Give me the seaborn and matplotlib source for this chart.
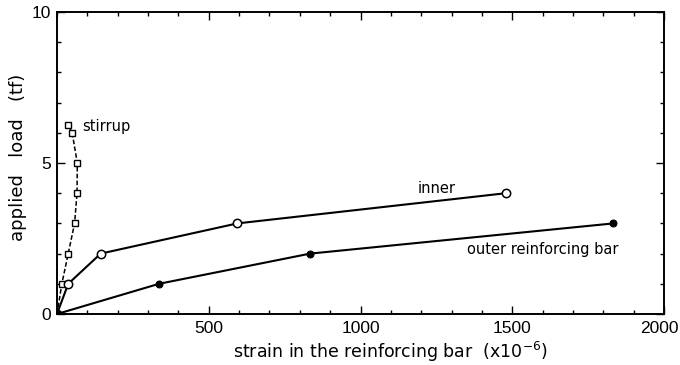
import matplotlib
matplotlib.use("Agg")
import matplotlib.pyplot as plt
import matplotlib.transforms as mtransforms
from matplotlib.ticker import MultipleLocator
import seaborn as sns
import pandas as pd

# strain readings (x10^-6) against applied load (tf)
stirrup_load = [0, 1, 2, 3, 4, 5, 6, 6.25]
stirrup_strain = [0, 16, 37, 58, 66, 67, 50, 37]

inner_load = [0, 1, 2, 3, 4]
inner_strain = [0, 37, 144, 594, 1479]

outer_load = [0, 1, 2, 3]
outer_strain = [0, 336, 834, 1833]

x_ticks = [500, 1000, 1500, 2000]
x_ticklabels = ["500", "1000", "1500", "2000"]

sns.set_style("ticks")
plt.rcParams["font.family"] = ["DejaVu Sans"]
plt.rcParams["text.color"] = "black"
plt.rcParams["axes.labelcolor"] = "black"

fig = plt.figure(figsize=(6.8, 3.65), dpi=100)
ax = fig.add_axes([0.0838, 0.1397, 0.8927, 0.8274])

stir = pd.DataFrame({"strain": stirrup_strain, "load": stirrup_load})
inn = pd.DataFrame({"strain": inner_strain, "load": inner_load})
out = pd.DataFrame({"strain": outer_strain, "load": outer_load})

sns.lineplot(data=stir, x="strain", y="load", sort=False, estimator=None, ax=ax,
             color="black", lw=1.1, linestyle=(0, (3, 1.5)), marker="s",
             markersize=5, markerfacecolor="white", markeredgecolor="black",
             markeredgewidth=1.0)
sns.lineplot(data=inn, x="strain", y="load", sort=False, estimator=None, ax=ax,
             color="black", lw=1.5, marker="o", markersize=6,
             markerfacecolor="white", markeredgecolor="black", markeredgewidth=1.1)
sns.lineplot(data=out, x="strain", y="load", sort=False, estimator=None, ax=ax,
             color="black", lw=1.5, marker="o", markersize=5,
             markerfacecolor="black", markeredgecolor="black")

ax.text(82, 6.2, "stirrup", fontsize=10.5, ha="left", va="center", color="black")
ax.text(1252, 4.17, "inner", fontsize=10.5, ha="center", va="center", color="black")
ax.text(1351, 2.15, "outer reinforcing bar", fontsize=10.5, ha="left", va="center",
        color="black")

ax.set_xlim(0, 2000)
ax.set_ylim(0, 10)
ax.xaxis.set_minor_locator(MultipleLocator(100))
ax.yaxis.set_major_locator(MultipleLocator(5))
ax.yaxis.set_minor_locator(MultipleLocator(1))
ax.set_xticks(x_ticks)
ax.set_xticklabels(x_ticklabels)
ax.tick_params(which="both", direction="in", top=True, right=True,
               colors="black", labelsize=12.5, width=1.0)
ax.tick_params(axis="x", pad=5)
ax.tick_params(axis="y", pad=4)
ax.tick_params(which="major", length=6)
ax.tick_params(which="minor", length=3)
for lab in ax.get_xticklabels() + ax.get_yticklabels():
    lab.set_family(["Liberation Sans", "DejaVu Sans"])
# last x label sits flush with the figure edge
last = ax.get_xticklabels()[-1]
last.set_transform(last.get_transform() +
                   mtransforms.ScaledTranslation(-5 / 100, 0, fig.dpi_scale_trans))
for s in ax.spines.values():
    s.set_visible(True)
    s.set_linewidth(1.4)
    s.set_color("black")

ax.set_xlabel("strain in the reinforcing bar  (x10$^{-6}$)", fontsize=12.5)
ax.xaxis.set_label_coords(0.549, -0.085)
ax.set_ylabel("applied   load   (tf)", fontsize=13)
ax.yaxis.set_label_coords(-0.05, 0.52)

fig.savefig("out.png", dpi=100)
